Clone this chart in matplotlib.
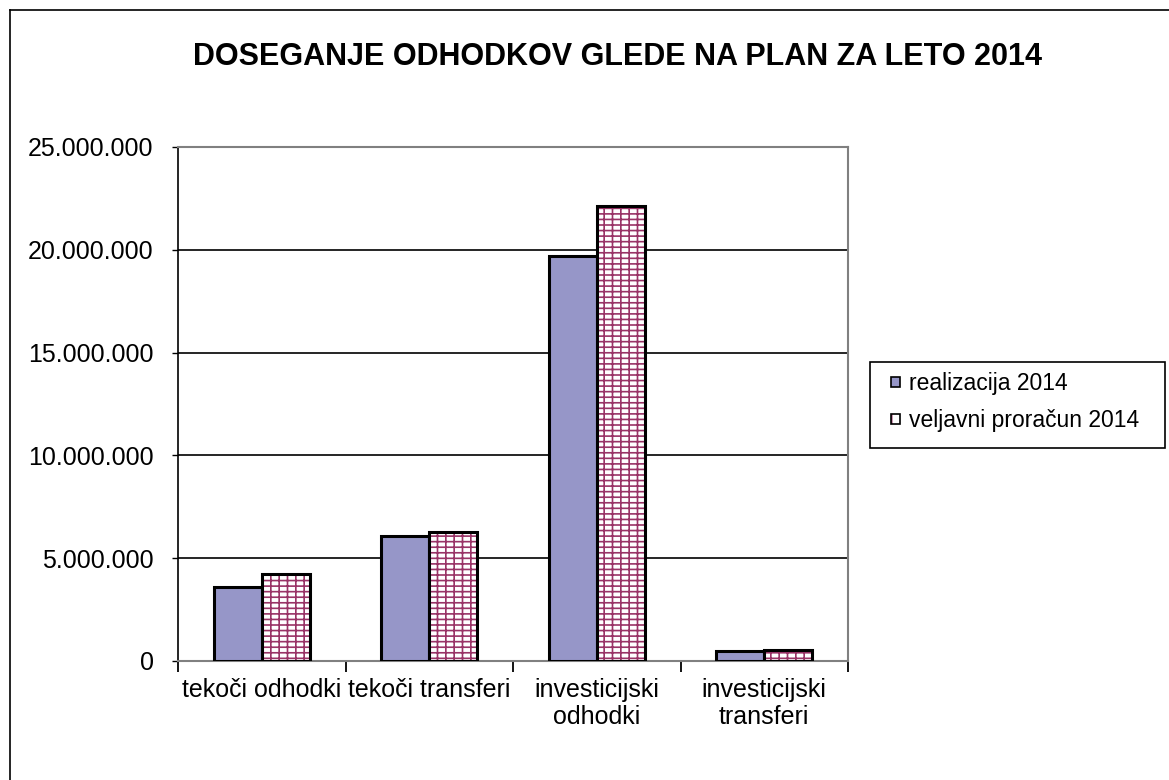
import matplotlib
matplotlib.use("Agg")
from matplotlib import pyplot as plt
from matplotlib.lines import Line2D
from matplotlib.patches import Patch, Rectangle
from matplotlib.ticker import FuncFormatter
import numpy as np

plt.rcParams['font.family'] = ['Liberation Sans', 'DejaVu Sans']
plt.rcParams['hatch.linewidth'] = 1.2

# podatki
kategorije = ["tekoči odhodki", "tekoči transferi", "investicijski\nodhodki", "investicijski\ntransferi"]
realizacija = [3580000, 6080000, 19700000, 500000]
plan = [4230000, 6290000, 22150000, 550000]
serije = ["realizacija 2014", "veljavni proračun 2014"]
naslov = "DOSEGANJE ODHODKOV GLEDE NA PLAN ZA LETO 2014"

barva_real = "#9696C8"
barva_opeka = "#993366"

W, H = 1169, 780
fig = plt.figure(figsize=(W / 100, H / 100), dpi=100)
ax = fig.add_axes([178 / W, 1 - 661 / H, 670 / W, 514 / H])

x = np.arange(len(kategorije))
w = 0.287

ax.bar(x - w / 2, realizacija, w, color=barva_real, edgecolor="black", linewidth=2.2, zorder=3)
# opeke: najprej vzorec, nato črn rob
ax.bar(x + w / 2, plan, w, color="white", edgecolor=barva_opeka, hatch="---||", linewidth=0, zorder=3)
ax.bar(x + w / 2, plan, w, fill=False, edgecolor="black", linewidth=2.2, zorder=4)

ax.set_xlim(-0.5, len(kategorije) - 0.5)
ax.set_ylim(0, 25000000)
ax.set_yticks(np.arange(0, 25000001, 5000000))
ax.yaxis.set_major_formatter(FuncFormatter(lambda v, p: f"{int(v):,}".replace(",", ".")))
ax.yaxis.grid(True, color="black", linewidth=1.2, zorder=0)
ax.tick_params(axis="y", labelsize=18, length=4.5, width=1, direction="out", pad=13)

ax.set_xticks(x)
ax.set_xticklabels(kategorije, fontsize=18, linespacing=1.2)
ax.set_xticks(np.arange(-0.5, len(kategorije)), minor=True)
ax.tick_params(axis="x", which="major", length=0, pad=12)
ax.tick_params(axis="x", which="minor", length=8, width=1.3, direction="out")

for s in ["top", "right", "bottom"]:
    ax.spines[s].set_color("#808080")
    ax.spines[s].set_linewidth(1.5)
ax.spines["left"].set_color("black")
ax.spines["left"].set_linewidth(1.2)

fig.text(0.528, 1 - 57 / H, naslov, fontsize=22, fontweight="bold", ha="center", va="center")

# legenda
h1 = Patch(facecolor=barva_real, edgecolor="black", linewidth=1.2)
h2a = Patch(facecolor="white", edgecolor=barva_opeka, hatch="-|", linewidth=0)
h2b = Patch(fill=False, edgecolor="black", linewidth=1.2)
leg = fig.legend([h1, (h2a, h2b)], serije, loc="upper left",
                 bbox_to_anchor=(891 / W, 1 - 372 / H), fontsize=16.5,
                 frameon=False, handlelength=0.38, handleheight=0.33,
                 handletextpad=0.4, labelspacing=0.62, borderpad=0, borderaxespad=0)
fig.add_artist(Rectangle((870 / W, 1 - 448 / H), 295 / W, 86 / H, transform=fig.transFigure,
                         fill=False, edgecolor="black", linewidth=1.2))

# okvir grafikona
fig.add_artist(Line2D([10 / W, 1], [1 - 10 / H, 1 - 10 / H], color="black", linewidth=1.2))
fig.add_artist(Line2D([10 / W, 10 / W], [0, 1 - 10 / H], color="black", linewidth=1.2))

fig.savefig("out.png", dpi=100)
